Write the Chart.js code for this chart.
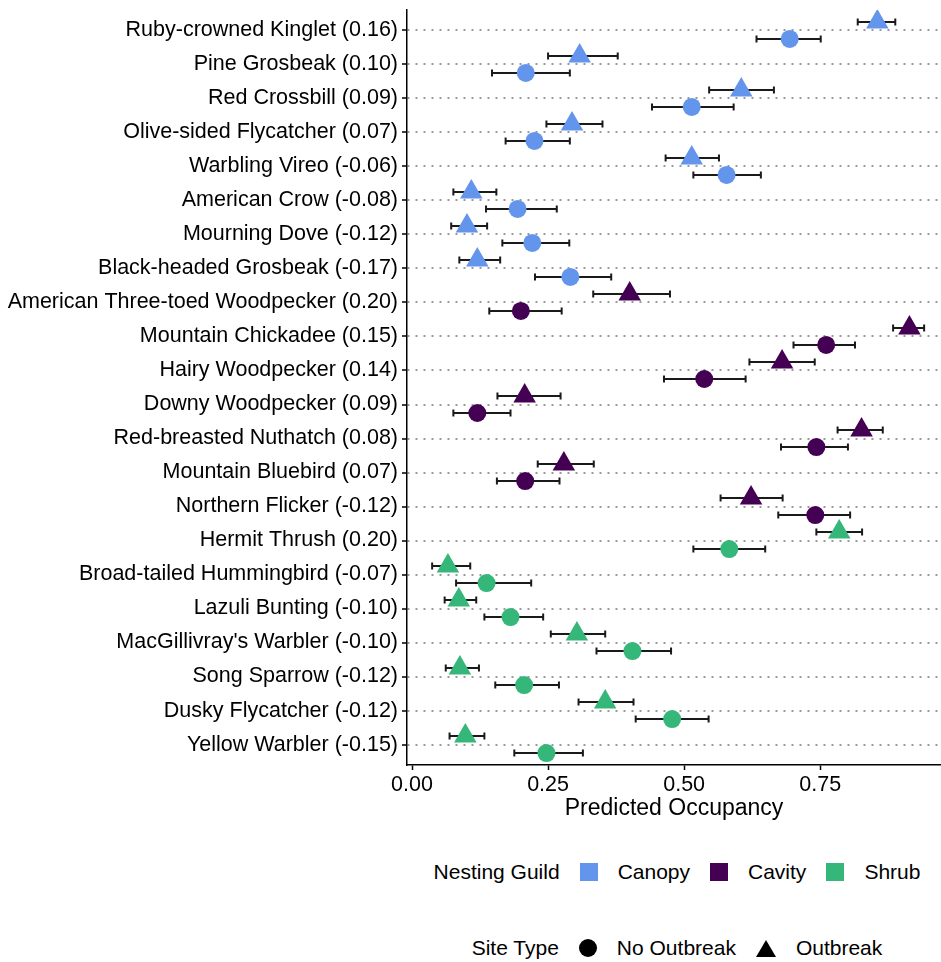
<!DOCTYPE html>
<html>
<head>
<meta charset="utf-8">
<script src="https://cdn.jsdelivr.net/npm/chart.js@4.4.1/dist/chart.umd.min.js"></script>
<style>
  html, body { margin: 0; padding: 0; background: #fff; }
  body { font-family: 'Liberation Sans', Arial, Helvetica, sans-serif; color: #000; }
  #page { position: relative; width: 941px; height: 962px; overflow: hidden; }
  #plot { position: absolute; left: 0; top: 0; width: 941px; height: 835px; }
  .legend-row {
    position: absolute; left: 413px; width: 528px; height: 30px;
    display: flex; align-items: center; justify-content: center; gap: 20px;
    font-size: 21px; white-space: nowrap;
  }
  .sq { width: 18px; height: 18px; display: inline-block; }
  .dot { width: 18px; height: 18px; border-radius: 50%; background: #000; display: inline-block; }
  .tri { width: 0; height: 0; border-left: 10px solid transparent; border-right: 10px solid transparent;
         border-bottom: 17px solid #000; display: inline-block; }
</style>
</head>
<body>
<div id="page">
  <div id="plot"><canvas id="chart"></canvas></div>
  <div class="legend-row" id="guildLegend" style="top:857px"></div>
  <div class="legend-row" id="siteLegend" style="top:933px"></div>
</div>
<script>
// ── Data ───────────────────────────────────────────────────────────
const species = [
    'Ruby-crowned Kinglet (0.16)', 'Pine Grosbeak (0.10)', 'Red Crossbill (0.09)',
    'Olive-sided Flycatcher (0.07)', 'Warbling Vireo (-0.06)', 'American Crow (-0.08)',
    'Mourning Dove (-0.12)', 'Black-headed Grosbeak (-0.17)',
    'American Three-toed Woodpecker (0.20)', 'Mountain Chickadee (0.15)',
    'Hairy Woodpecker (0.14)', 'Downy Woodpecker (0.09)', 'Red-breasted Nuthatch (0.08)',
    'Mountain Bluebird (0.07)', 'Northern Flicker (-0.12)',
    'Hermit Thrush (0.20)', 'Broad-tailed Hummingbird (-0.07)', 'Lazuli Bunting (-0.10)',
    "MacGillivray's Warbler (-0.10)", 'Song Sparrow (-0.12)', 'Dusky Flycatcher (-0.12)',
    'Yellow Warbler (-0.15)'
];
const guild = [
    'Canopy', 'Canopy', 'Canopy', 'Canopy', 'Canopy', 'Canopy', 'Canopy', 'Canopy',
    'Cavity', 'Cavity', 'Cavity', 'Cavity', 'Cavity', 'Cavity', 'Cavity',
    'Shrub', 'Shrub', 'Shrub', 'Shrub', 'Shrub', 'Shrub', 'Shrub'
];
const guildNames  = ['Canopy', 'Cavity', 'Shrub'];
const guildColors = { Canopy: '#6495ED', Cavity: '#440154', Shrub: '#35B779' };

// No Outbreak (circles)
const noOutMean = [0.694, 0.209, 0.514, 0.225, 0.578, 0.194, 0.221, 0.291,
                   0.200, 0.761, 0.537, 0.120, 0.743, 0.208, 0.741,
                   0.583, 0.137, 0.181, 0.405, 0.206, 0.478, 0.247];
const noOutLo   = [0.633, 0.147, 0.441, 0.172, 0.517, 0.136, 0.166, 0.226,
                   0.142, 0.701, 0.463, 0.076, 0.678, 0.156, 0.673,
                   0.517, 0.081, 0.133, 0.339, 0.153, 0.411, 0.188];
const noOutHi   = [0.751, 0.290, 0.591, 0.290, 0.641, 0.266, 0.289, 0.366,
                   0.275, 0.814, 0.613, 0.181, 0.801, 0.271, 0.805,
                   0.649, 0.219, 0.241, 0.476, 0.270, 0.545, 0.314];

// Outbreak (triangles)
const outMean = [0.855, 0.308, 0.605, 0.294, 0.514, 0.109, 0.101, 0.120,
                 0.400, 0.914, 0.680, 0.207, 0.826, 0.279, 0.623,
                 0.785, 0.066, 0.086, 0.303, 0.088, 0.355, 0.098];
const outLo   = [0.819, 0.250, 0.546, 0.247, 0.466, 0.076, 0.072, 0.087,
                 0.333, 0.884, 0.620, 0.157, 0.782, 0.231, 0.567,
                 0.743, 0.037, 0.060, 0.255, 0.062, 0.306, 0.069];
const outHi   = [0.888, 0.378, 0.665, 0.350, 0.564, 0.155, 0.138, 0.162,
                 0.474, 0.941, 0.740, 0.273, 0.865, 0.334, 0.681,
                 0.827, 0.107, 0.118, 0.355, 0.123, 0.407, 0.133];

const xTicks = [0, 0.25, 0.5, 0.75];

// ── Chart setup ────────────────────────────────────────────────────
const FONT = "'Liberation Sans', Arial, Helvetica, sans-serif";
Chart.defaults.font.family = FONT;
Chart.defaults.color = '#000';

const DODGE = 0.25;   // vertical offset of each site type within a species row

// error bars are drawn under the points, from the x scale
const errorBars = {
    id: 'errorBars',
    beforeDatasetsDraw(chart) {
        const { ctx, scales: { x } } = chart;
        ctx.save();
        ctx.strokeStyle = '#1a1a1a';
        ctx.lineWidth = 2;
        chart.data.datasets.forEach((ds, d) => {
            const meta = chart.getDatasetMeta(d);
            meta.data.forEach((pt, i) => {
                const x1 = x.getPixelForValue(ds.errLo[i]);
                const x2 = x.getPixelForValue(ds.errHi[i]);
                const y  = pt.y;
                ctx.beginPath();
                ctx.moveTo(x1, y);       ctx.lineTo(x2, y);
                ctx.moveTo(x1, y - 3.5); ctx.lineTo(x1, y + 3.5);
                ctx.moveTo(x2, y - 3.5); ctx.lineTo(x2, y + 3.5);
                ctx.stroke();
            });
        });
        ctx.restore();
    }
};

const pointColors = guild.map(g => guildColors[g]);

new Chart(document.getElementById('chart'), {
    type: 'scatter',
    data: {
        datasets: [
            {
                label: 'No Outbreak',
                data: noOutMean.map((v, i) => ({ x: v, y: i + DODGE })),
                errLo: noOutLo, errHi: noOutHi,
                pointStyle: 'circle',
                pointRadius: 9,
                pointBackgroundColor: pointColors,
                pointBorderWidth: 0,
            },
            {
                label: 'Outbreak',
                data: outMean.map((v, i) => ({ x: v, y: i - DODGE })),
                errLo: outLo, errHi: outHi,
                pointStyle: 'triangle',
                pointRadius: 13,
                pointBackgroundColor: pointColors,
                pointBorderWidth: 0,
            }
        ]
    },
    options: {
        responsive: true,
        maintainAspectRatio: false,
        animation: false,
        events: [],
        layout: { autoPadding: false, padding: { top: 10, left: 0, right: 0, bottom: 0 } },
        plugins: { legend: { display: false }, tooltip: { enabled: false } },
        scales: {
            x: {
                type: 'linear',
                min: -0.0092,
                max: 0.972,
                afterBuildTicks: s => { s.ticks = xTicks.map(v => ({ value: v })); },
                afterFit: s => { s.height = 70; },
                ticks: {
                    callback: v => v.toFixed(2),
                    font: { size: 21.5 },
                    color: '#000',
                    padding: 2,
                    maxRotation: 0,
                },
                grid: { drawOnChartArea: false, tickLength: 5, tickWidth: 1.5, tickColor: '#000' },
                border: { color: '#000', width: 1.5 },
                title: {
                    display: true,
                    text: 'Predicted Occupancy',
                    font: { size: 23 },
                    color: '#000',
                    padding: { top: 0, bottom: 13 },
                },
            },
            y: {
                type: 'linear',
                reverse: true,
                min: -0.6,
                max: species.length - 0.4,
                afterBuildTicks: s => { s.ticks = species.map((_, i) => ({ value: i })); },
                // fixed axis width; the end labels sit well inside, so no extra padding
                afterFit: s => { s.width = 407; s.paddingTop = 0; s.paddingBottom = 0; },
                ticks: {
                    autoSkip: false,
                    callback: v => species[v],
                    font: { size: 21.5 },
                    color: '#000',
                    padding: 4,
                },
                grid: {
                    color: '#999', lineWidth: 2,
                    tickLength: 5, tickWidth: 1.5, tickColor: '#000',
                },
                // border.dash styles the dotted grid lines in v4
                border: { color: '#000', width: 1.5, dash: [2, 6] },
            }
        }
    },
    plugins: [errorBars]
});

// ── Legends (HTML) ─────────────────────────────────────────────────
function addText(el, txt) {
    const s = document.createElement('span');
    s.textContent = txt;
    el.appendChild(s);
}
const gl = document.getElementById('guildLegend');
addText(gl, 'Nesting Guild');
guildNames.forEach(g => {
    const sq = document.createElement('i');
    sq.className = 'sq';
    sq.style.background = guildColors[g];
    gl.appendChild(sq);
    addText(gl, g);
});

const sl = document.getElementById('siteLegend');
addText(sl, 'Site Type');
[['dot', 'No Outbreak'], ['tri', 'Outbreak']].forEach(([cls, name]) => {
    const m = document.createElement('i');
    m.className = cls;
    sl.appendChild(m);
    addText(sl, name);
});
</script>
</body>
</html>
